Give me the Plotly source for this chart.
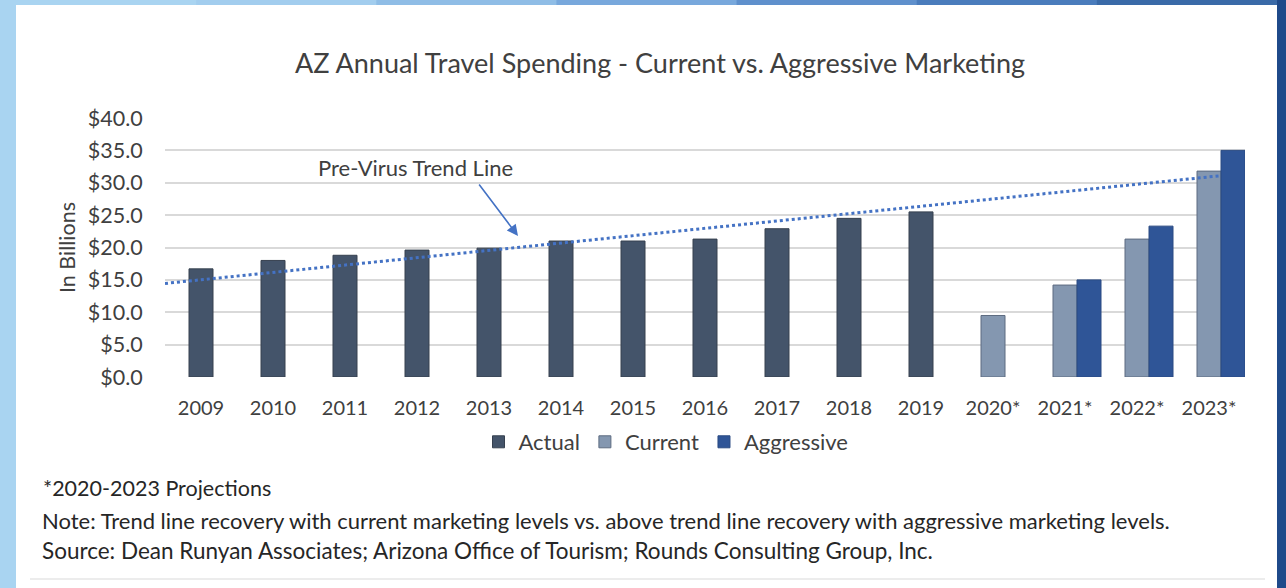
import plotly.graph_objects as go

years = ["2009", "2010", "2011", "2012", "2013", "2014", "2015", "2016",
         "2017", "2018", "2019", "2020*", "2021*", "2022*", "2023*"]
actual = [16.7, 18.0, 18.8, 19.6, 19.9, 21.0, 21.0, 21.3, 22.9, 24.5, 25.5,
          None, None, None, None]
current = [None] * 11 + [9.5, 14.2, 21.3, 31.8]
aggressive = [None] * 12 + [15.0, 23.3, 35.0]
trend_x = [-0.5, 14.15]
trend_y = [14.45, 31.07]
y_ticks = [0, 5, 10, 15, 20, 25, 30, 35, 40]
y_ticktext = ["$%.1f" % v for v in y_ticks]

W, H = 1286, 588
L, R, T, B = 165, 1245, 118, 377
FONT = "Lato"
TXT = "#404040"


def px(x):
    return (x - L) / (R - L)


def py(y):
    return (B - y) / (B - T)


xpos = list(range(len(years)))
bw = 1 / 3

fig = go.Figure()
fig.add_trace(go.Bar(x=xpos, y=actual, name="Actual", width=bw, offset=-bw / 2,
                     marker=dict(color="#44546A", line=dict(color="#36404f", width=1))))
fig.add_trace(go.Bar(x=xpos, y=current, name="Current", width=bw, offset=-bw / 2,
                     marker=dict(color="#8497B0", line=dict(color="#5d6b80", width=1))))
fig.add_trace(go.Bar(x=xpos, y=aggressive, name="Aggressive", width=bw, offset=bw / 2,
                     marker=dict(color="#2F5597", line=dict(color="#2a4a82", width=1))))
fig.add_trace(go.Scatter(x=trend_x, y=trend_y, mode="lines", showlegend=False,
                         line=dict(color="#4472C4", width=3, dash="3px,3px"),
                         hoverinfo="skip"))

shapes = []
shapes.append(dict(type="rect", xref="paper", yref="paper", layer="below",
                   x0=px(0), x1=px(W), y0=py(H), y1=py(0),
                   fillcolor="#a9d4f1", line=dict(width=0)))
top_cols = ["#a9d4f1", "#a2cdee", "#8fbde6", "#78a8dc", "#5f90cc", "#4a7cbc", "#3a6aa8"]
n = len(top_cols)
for i, c in enumerate(top_cols):
    shapes.append(dict(type="rect", xref="paper", yref="paper", layer="below",
                       x0=px(16 + i * (1277 - 16) / n), x1=px(16 + (i + 1) * (1277 - 16) / n + 1),
                       y0=py(6), y1=py(0), fillcolor=c, line=dict(width=0)))
shapes.append(dict(type="rect", xref="paper", yref="paper", layer="below",
                   x0=px(16), x1=px(1277), y0=py(H + 5), y1=py(5),
                   fillcolor="white", line=dict(width=0)))
shapes.append(dict(type="rect", xref="paper", yref="paper", layer="below",
                   x0=px(1277), x1=px(W + 4), y0=py(H + 4), y1=py(-4),
                   fillcolor="#1f4a8a", line=dict(width=0)))
shapes.append(dict(type="line", xref="paper", yref="paper", layer="below",
                   x0=px(30), x1=px(1265), y0=py(579), y1=py(579),
                   line=dict(color="#e6e6e6", width=1.5)))

NOTE = "#262626"
annotations = [
    dict(text="AZ Annual Travel Spending - Current vs. Aggressive Marketing",
         x=px(660), y=py(62), xref="paper", yref="paper", showarrow=False,
         font=dict(family=FONT, size=27, color=TXT), xanchor="center", yanchor="middle"),
    dict(text="In Billions", x=px(67), y=py(248), xref="paper", yref="paper",
         showarrow=False, textangle=-90, font=dict(family=FONT, size=21.5, color=TXT),
         xanchor="center", yanchor="middle"),
    dict(text="Pre-Virus Trend Line", x=px(415), y=py(167), xref="paper", yref="paper",
         showarrow=False, font=dict(family=FONT, size=22, color=TXT),
         xanchor="center", yanchor="middle"),
    dict(text="", x=px(518), y=py(236), ax=-40, ay=-53, xref="paper", yref="paper",
         axref="pixel", ayref="pixel", showarrow=True, arrowhead=2, arrowsize=1.4,
         arrowwidth=1.6, arrowcolor="#4472C4"),
    dict(text="*2020-2023 Projections", x=px(41), y=py(488), xref="paper", yref="paper",
         showarrow=False, font=dict(family=FONT, size=21.5, color=NOTE),
         xanchor="left", yanchor="middle"),
    dict(text="Note: Trend line recovery with current marketing levels vs. above trend line recovery with aggressive marketing levels.",
         x=px(40), y=py(520), xref="paper", yref="paper",
         showarrow=False, font=dict(family=FONT, size=22, color=NOTE),
         xanchor="left", yanchor="middle"),
    dict(text="Source: Dean Runyan Associates; Arizona Office of Tourism; Rounds Consulting Group, Inc.",
         x=px(40), y=py(550), xref="paper", yref="paper",
         showarrow=False, font=dict(family=FONT, size=22.5, color=NOTE),
         xanchor="left", yanchor="middle"),
]

fig.update_layout(
    width=W, height=H,
    margin=dict(l=L, r=W - R, t=T, b=H - B, pad=0),
    paper_bgcolor="#a9d4f1", plot_bgcolor="rgba(0,0,0,0)",
    barmode="overlay",
    font=dict(family=FONT, size=20, color=TXT),
    shapes=shapes, annotations=annotations,
    legend=dict(orientation="h", x=px(666), y=py(442), xref="paper", yref="paper",
                xanchor="center", yanchor="middle", font=dict(family=FONT, size=22, color=TXT),
                bgcolor="rgba(0,0,0,0)", itemwidth=30, traceorder="normal"),
    xaxis=dict(range=[-0.5, len(years) - 0.5], tickmode="array", tickvals=xpos,
               ticktext=years, showgrid=False, zeroline=False, showline=False,
               ticks="outside", ticklen=13, tickcolor="rgba(0,0,0,0)",
               tickfont=dict(family=FONT, size=20, color=TXT), fixedrange=True),
    yaxis=dict(range=[0, 40], tickmode="array", tickvals=y_ticks, ticktext=y_ticktext,
               showgrid=True, gridcolor="#d9d9d9", gridwidth=1.5, zeroline=False,
               showline=False, ticks="outside", ticklen=17, tickcolor="rgba(0,0,0,0)",
               tickfont=dict(family=FONT, size=21.5, color=TXT), fixedrange=True),
    showlegend=True,
)

fig.write_html("out.html", config={"displayModeBar": False},
               post_script="document.body.style.margin='0';document.body.style.overflow='hidden';")
